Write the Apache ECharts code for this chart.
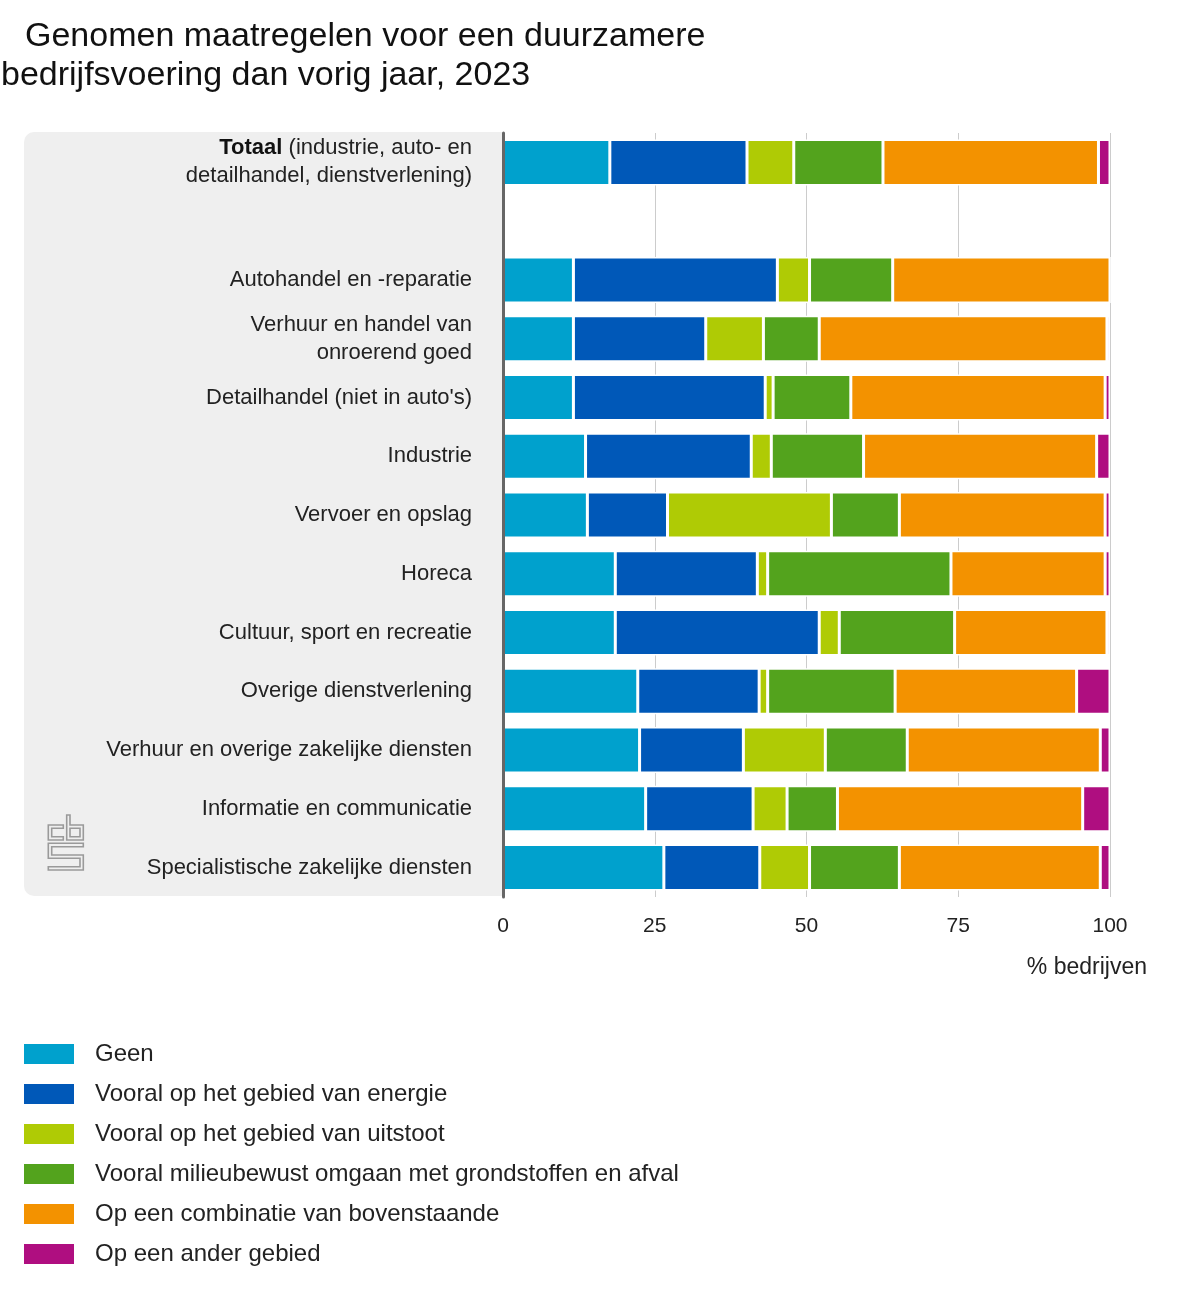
<!DOCTYPE html>
<html>
<head>
<meta charset="utf-8">
<script src="https://cdn.jsdelivr.net/npm/echarts@6/dist/echarts.min.js"></script>
<style>
html,body{margin:0;padding:0;background:#fff;}
#chart{width:1200px;height:1300px;}
</style>
</head>
<body>
<div id="chart"></div>
<script>
var categories = [
  'Totaal (industrie, auto- en\ndetailhandel, dienstverlening)',
  '',
  'Autohandel en -reparatie',
  'Verhuur en handel van\nonroerend goed',
  "Detailhandel (niet in auto's)",
  'Industrie',
  'Vervoer en opslag',
  'Horeca',
  'Cultuur, sport en recreatie',
  'Overige dienstverlening',
  'Verhuur en overige zakelijke diensten',
  'Informatie en communicatie',
  'Specialistische zakelijke diensten'
];
var seriesNames = [
  'Geen',
  'Vooral op het gebied van energie',
  'Vooral op het gebied van uitstoot',
  'Vooral milieubewust omgaan met grondstoffen en afval',
  'Op een combinatie van bovenstaande',
  'Op een ander gebied'
];
var geen       = [17.6, null, 11.6, 11.6, 11.6, 13.6, 13.9, 18.5, 18.5, 22.2, 22.5, 23.5, 26.5];
var energie    = [22.6, null, 33.6, 21.8, 31.6, 27.3, 13.2, 23.4, 33.6, 20.0, 17.1, 17.7, 15.8];
var uitstoot   = [7.7,  null, 5.3,  9.5,  1.3,  3.3,  27.0, 1.7,  3.3,  1.4,  13.5, 5.6,  8.2];
var milieu     = [14.7, null, 13.7, 9.2,  12.8, 15.2, 11.2, 30.2, 19.0, 21.0, 13.5, 8.3,  14.8];
var combinatie = [35.5, null, 35.8, 47.4, 41.9, 38.4, 33.9, 25.4, 25.1, 29.9, 31.8, 40.4, 33.1];
var ander      = [1.9,  null, 0,    0.5,  0.8,  2.2,  0.8,  0.8,  0.5,  5.5,  1.6,  4.5,  1.6];
var xTicks = [0, 25, 50, 75, 100];

var colors = ['#00a1cd', '#0058b8', '#afcb05', '#53a31d', '#f39200', '#af0e80'];
var values = [geen, energie, uitstoot, milieu, combinatie, ander];
var FONT = '"Liberation Sans", Arial, sans-serif';

var chart = echarts.init(document.getElementById('chart'), null, {renderer: 'canvas'});

var series = seriesNames.map(function (name, i) {
  return {
    name: name,
    type: 'bar',
    stack: 'total',
    data: values[i],
    barWidth: 46,
    itemStyle: {color: colors[i], borderColor: '#ffffff', borderWidth: 1.5},
    emphasis: {disabled: true}
  };
});

var logoStyle = {stroke: '#9a9a9a', lineWidth: 1.6, fill: null};

var option = {
  animation: false,
  backgroundColor: '#ffffff',
  textStyle: {fontFamily: FONT},
  grid: {left: 503, right: 90, top: 133, bottom: 403, containLabel: false},
  xAxis: {
    type: 'value',
    min: 0, max: 100, interval: 25,
    axisLine: {show: false},
    axisTick: {show: false},
    splitLine: {show: true, lineStyle: {color: '#cccccc', width: 1}},
    axisLabel: {
      fontSize: 21, color: '#222', margin: 19, fontFamily: FONT,
      formatter: function (v) { return xTicks.indexOf(v) >= 0 ? String(v) : ''; }
    }
  },
  yAxis: {
    type: 'category',
    inverse: true,
    z: 5,
    data: categories,
    axisLine: {show: true, lineStyle: {color: '#666666', width: 3}},
    axisTick: {show: false},
    axisLabel: {
      fontSize: 22, color: '#222', margin: 31, lineHeight: 28, fontFamily: FONT,
      align: 'right',
      formatter: function (v) {
        if (v.indexOf('Totaal') === 0) {
          return v.replace('Totaal', '{b|Totaal}');
        }
        return v;
      },
      rich: {
        b: {fontWeight: 'bold', fontSize: 22, lineHeight: 28, color: '#111', fontFamily: FONT}
      }
    }
  },
  legend: {
    orient: 'vertical',
    left: 19,
    top: 1037,
    itemWidth: 50,
    itemHeight: 20,
    itemGap: 16,
    icon: 'rect',
    itemStyle: {borderWidth: 0},
    selectedMode: false,
    textStyle: {fontSize: 24, color: '#222', fontFamily: FONT, padding: [0, 0, 0, 16]},
    data: seriesNames
  },
  graphic: [
    {
      type: 'rect', z: -10, silent: true,
      shape: {x: 24, y: 132, width: 478, height: 764, r: [10, 0, 0, 10]},
      style: {fill: '#efefef'}
    },
    {
      type: 'text', left: 25, top: 20,
      style: {text: 'Genomen maatregelen voor een duurzamere', fontSize: 34, fill: '#111', fontFamily: FONT}
    },
    {
      type: 'text', left: 1, top: 59,
      style: {text: 'bedrijfsvoering dan vorig jaar, 2023', fontSize: 34, fill: '#111', fontFamily: FONT}
    },
    {
      type: 'text', right: 53, top: 956,
      style: {text: '% bedrijven', fontSize: 23, fill: '#222', fontFamily: FONT}
    },
    {
      type: 'group', silent: true,
      children: [
        {type: 'polygon', shape: {points: [[63.3, 825], [48.3, 825], [48.3, 840], [63.3, 840], [63.3, 836.7], [51.7, 836.7], [51.7, 828.3], [63.3, 828.3]]}, style: logoStyle},
        {type: 'polygon', shape: {points: [[66.7, 815], [70, 815], [70, 825], [83.3, 825], [83.3, 840], [66.7, 840]]}, style: logoStyle},
        {type: 'rect', shape: {x: 70, y: 828.3, width: 10, height: 8.4}, style: logoStyle},
        {type: 'polygon', shape: {points: [[83.3, 843.3], [48.3, 843.3], [48.3, 858.3], [80, 858.3], [80, 866.7], [48.3, 866.7], [48.3, 870], [83.3, 870], [83.3, 855], [51.7, 855], [51.7, 846.7], [83.3, 846.7]]}, style: logoStyle}
      ]
    }
  ],
  series: series
};
chart.setOption(option);
</script>
</body>
</html>
